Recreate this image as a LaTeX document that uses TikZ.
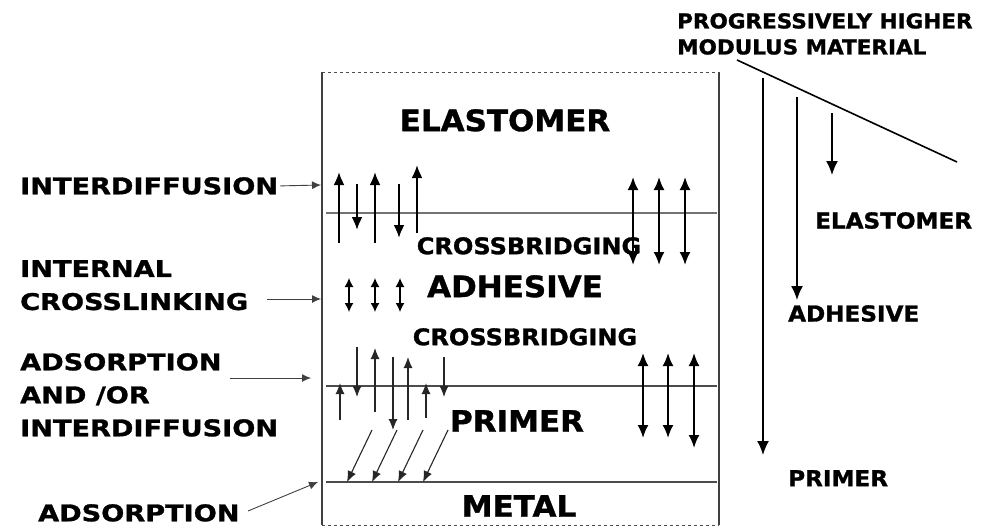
\documentclass[tikz,border=0pt]{standalone}
\usepackage{fontspec}
\newfontfamily\layerfont{DejaVu Sans}[FakeStretch=1.05, BoldFeatures={FakeBold=1.2}]
\newfontfamily\sidefont{DejaVu Sans}[FakeStretch=1.18, BoldFeatures={FakeBold=1.2}]
\usetikzlibrary{arrows.meta}
\usetikzlibrary{calc}

\begin{document}
\begin{tikzpicture}[x=1pt, y=-1pt,
  layername/.style={inner sep=0, anchor=north, font=\layerfont\bfseries\fontsize{29.5}{34}\selectfont},
  bridgename/.style={inner sep=0, anchor=north, font=\layerfont\bfseries\fontsize{22.9}{27}\selectfont},
  sidename/.style={inner sep=0, anchor=north west, align=left, font=\sidefont\bfseries\fontsize{23}{33}\selectfont},
  rightname/.style={inner sep=0, anchor=north west, align=left, font=\layerfont\bfseries\fontsize{22}{26}\selectfont},
  pointer/.style={black!75, line width=0.9pt, -{Latex[length=9pt,width=8pt]}},
  bond/.style={line width=2.2pt, -{Latex[length=13pt,width=11pt]}},
  bondboth/.style={line width=2pt, {Latex[length=13pt,width=11pt]}-{Latex[length=13pt,width=11pt]}},
  linkboth/.style={line width=1.3pt, {Latex[length=9pt,width=9pt]}-{Latex[length=9pt,width=9pt]}},
  thinbond/.style={black!85, line width=1.1pt, -{Latex[length=11pt,width=9pt]}},
  interface/.style={black!70, line width=1.1pt},
  scale arrow/.style={line width=1.8pt, -{Latex[length=14pt,width=12pt]}}]
\useasboundingbox (0,0) rectangle (992,527);

\draw[black!75, line width=1.3pt] (322,72)--(322,525) (719,72)--(719,525);
\draw[black!70, dashed, line width=0.8pt] (322,72)--(719,72) (322,525)--(719,525);
\draw[interface, black!55] (326,213)--(717,213);
\draw[interface] (326,386)--(717,386);
\draw[interface] (326,482)--(717,482);

\node[layername] (elast) at (505,109) {ELASTOMER};
\node[bridgename] (bridgeA) at (529,237) {CROSSBRIDGING};
\node[layername] (adhes) at (515,275) {ADHESIVE};
\node[bridgename] (bridgeB) at (525,328) {CROSSBRIDGING};
\node[layername] (prim) at (517,410) {PRIMER};
\node[layername] (metal) at (519,495) {METAL};

\node[sidename] (interdiff) at (20,177) {INTERDIFFUSION};
\node[sidename] (crosslink) at (20,260) {INTERNAL\\CROSSLINKING};
\node[sidename] (adsorbdiff) at (20,353) {ADSORPTION\\AND /OR\\INTERDIFFUSION};
\node[sidename] (adsorb) at (38,504) {ADSORPTION};

\coordinate (hitA) at (321,185);
\coordinate (hitB) at (321,299);
\coordinate (hitC) at (311,378);
\coordinate (hitD) at (318,482);
\draw[pointer] ([xshift=2pt]interdiff.east) -- (hitA);
\draw[pointer] (267,299) -- (hitB);
\draw[pointer] (230,378) -- (hitC);
\draw[pointer] (248,511) -- (hitD);

\foreach \x/\a/\b in {339/243/172, 357/184/230, 375/243/172, 399/184/238, 417/233/165}
 \draw[bond] (\x,\a)--(\x,\b);
\foreach \x in {633,659,685}
 \draw[bondboth] (\x,177)--(\x,265);

\foreach \x in {349,375,400}
 \draw[linkboth] (\x,278)--(\x,312);

\foreach \x/\a/\b in {340/420/383, 357/347/397, 375/412/348, 393/357/430, 408/420/357, 426/418/383, 444/357/397}
 \draw[thinbond] (\x,\a)--(\x,\b);
\foreach \x in {372,397,423,448}
 \draw[thinbond] (\x,430)--(\x-25,482);
\foreach \x/\b in {643/438, 668/438, 694/448}
 \draw[bondboth] (\x,353)--(\x,\b);

\node[rightname, font=\layerfont\bfseries\fontsize{20.5}{26}\selectfont] (modulus) at (677,13) {PROGRESSIVELY HIGHER\\MODULUS MATERIAL};
\coordinate (slopeA) at (737,60);
\coordinate (slopeB) at (957,162);
\draw[line width=1.6pt] (slopeA)--(slopeB);
\node[rightname] (rElast) at (815,212) {ELASTOMER};
\node[rightname] (rAdhes) at (788,305) {ADHESIVE};
\node[rightname] (rPrim) at (788,470) {PRIMER};
\draw[scale arrow] (763,78)--(763,455);
\draw[scale arrow, line width=1.5pt] (797,97)--(797,300);
\draw[scale arrow, line width=1.5pt] (832,113)--(832,175);
\end{tikzpicture}
\end{document}
